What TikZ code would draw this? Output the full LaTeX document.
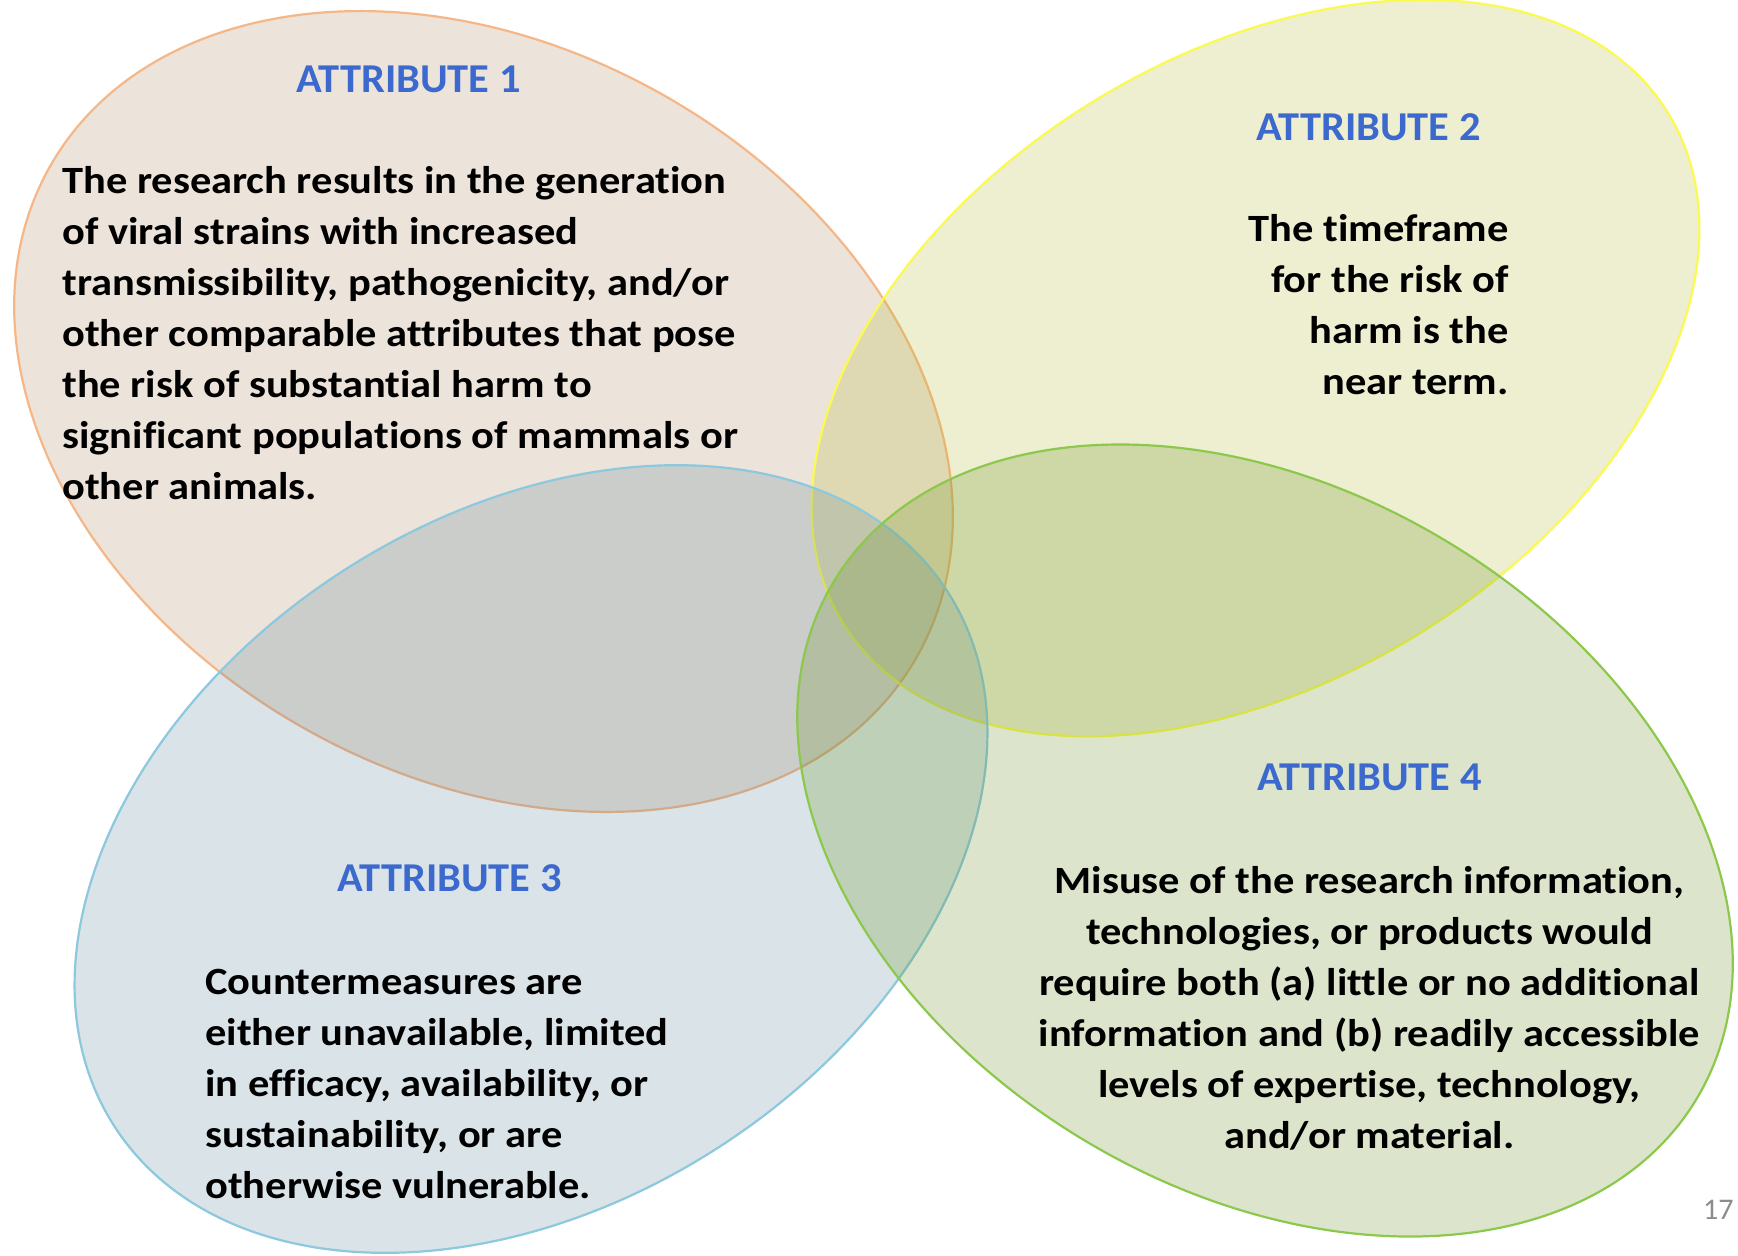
\documentclass[tikz,border=0pt]{standalone}
\usepackage{fontspec}
\setmainfont{Carlito}[RawFeature=-liga]
\newfontfamily\bodyface{Carlito}[FakeStretch=1.10, RawFeature=-liga]
\newfontfamily\headface{Carlito}[FakeStretch=1.035, RawFeature=-liga]
\usetikzlibrary{shapes.geometric}

% translucent fills and edge colours of the four sets
\definecolor{ofill}{RGB}{173,132,87}
\definecolor{oedge}{RGB}{245,183,135}
\definecolor{yfill}{RGB}{178,182,41}
\definecolor{yedge}{RGB}{250,250,80}
\definecolor{bfill}{RGB}{87,128,150}
\definecolor{bedge}{RGB}{140,200,222}
\definecolor{gfill}{RGB}{96,141,23}
\definecolor{gedge}{RGB}{140,200,75}
\definecolor{titleblue}{RGB}{60,105,205}
\definecolor{pagegray}{RGB}{140,140,140}

\begin{document}
\begin{tikzpicture}[x=0.5pt,y=-0.5pt,
  blob/.style={ellipse, inner sep=0pt, outer sep=0pt, line width=1.1pt, fill opacity=0.22},
  head/.style={text=titleblue, font=\headface\fontsize{20.5}{24}\selectfont\bfseries, anchor=base, inner sep=0pt},
  body/.style={font=\bodyface\fontsize{19.3}{25.5}\selectfont\bfseries, inner sep=0pt},
]
\useasboundingbox (0,0) rectangle (1738,1255);
\fill[white] (0,0) rectangle (1738,1255);

% the four overlapping sets
\node[blob, draw=oedge, fill=ofill, minimum width=498pt, minimum height=364pt, rotate=-29.4] (e1) at (483.5,411.5) {};
\node[blob, draw=yedge, fill=yfill, minimum width=485pt, minimum height=312pt, rotate=31.8] (e2) at (1255.5,368) {};
\node[blob, draw=bedge, fill=bfill, minimum width=495pt, minimum height=344pt, rotate=32.6] (e3) at (531,859) {};
\node[blob, draw=gedge, fill=gfill, minimum width=503pt, minimum height=350pt, rotate=-30.85] (e4) at (1265,840.5) {};

% headings
\node[head] (t1) at (408.5,92) {ATTRIBUTE 1};
\node[head] (t2) at (1368.5,140) {ATTRIBUTE 2};
\node[head] (t3) at (449.5,891.5) {ATTRIBUTE 3};
\node[head] (t4) at (1369.5,790) {ATTRIBUTE 4};

% descriptions
\node[body, anchor=base west, text width=380pt, align=flush left] (d1) at (62,193)
  {The research results in the generation\\
   of viral strains with increased\\
   transmissibility, pathogenicity, and/or\\
   other comparable attributes that pose\\
   the risk of substantial harm to\\
   significant populations of mammals or\\
   other animals.};
\node[body, anchor=base east, text width=200pt, align=flush right] (d2) at (1509,241)
  {The timeframe\\
   for the risk of\\
   harm is the\\
   near term.};
\node[body, anchor=base west, text width=300pt, align=flush left] (d3) at (205,994)
  {Countermeasures are\\
   either unavailable, limited\\
   in efficacy, availability, or\\
   sustainability, or are\\
   otherwise vulnerable.};
\node[body, anchor=base, text width=380pt, align=flush center] (d4) at (1369.5,893)
  {Misuse of the research information,\\
   technologies, or products would\\
   require both (a) little or no additional\\
   information and (b) readily accessible\\
   levels of expertise, technology,\\
   and/or material.};

% slide number
\node[anchor=base east, text=pagegray, font=\fontsize{15}{18}\selectfont, inner sep=0pt] (pg) at (1734,1219) {17};
\end{tikzpicture}
\end{document}
